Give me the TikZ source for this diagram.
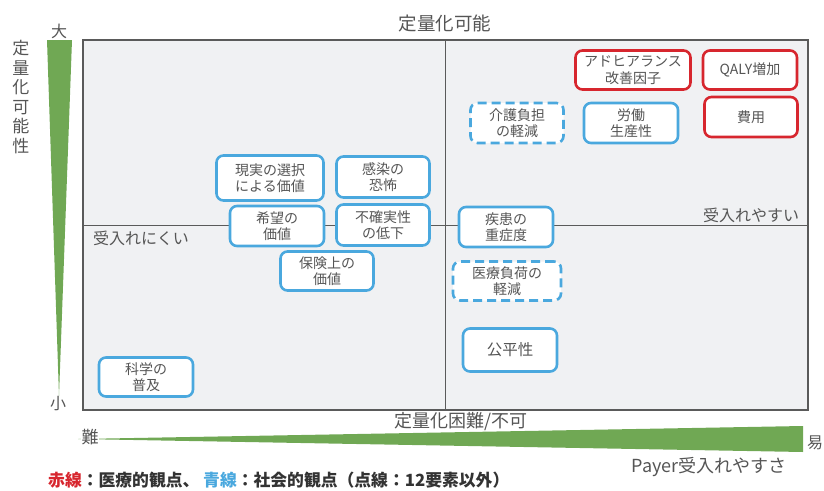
\documentclass[tikz,border=0pt]{standalone}
\usepackage{fontspec}
\setmainfont{Noto Sans CJK JP}
\definecolor{txt}{RGB}{85,85,85}
\definecolor{bl}{RGB}{74,168,222}
\definecolor{rd}{RGB}{215,38,46}
\definecolor{gr}{RGB}{112,168,84}
\definecolor{bgc}{RGB}{240,241,243}
\definecolor{frm}{RGB}{90,90,90}
\tikzset{
  box/.style={draw, line width=2.6pt, rounded corners=7pt, fill=white, align=center,
    text=txt, font=\fontsize{14}{16.5}\selectfont, inner sep=0pt},
  bbox/.style={box, draw=bl},
  rbox/.style={box, draw=rd},
  dbox/.style={box, draw=bl, dash pattern=on 9pt off 5pt},
  lbl/.style={text=txt, inner sep=0pt}
}
\begin{document}
\begin{tikzpicture}[x=1pt,y=-1pt]
\useasboundingbox (0,0) rectangle (824,490);
% plot area
\draw[frm, line width=1.1pt, fill=bgc] (83,40) rectangle (808,410);
\draw[frm, line width=0.9pt] (445.5,40) -- (445.5,410);
\draw[frm, line width=0.9pt] (83,225) -- (808,225);
% green wedges
\fill[gr] (47,40) -- (72,40) -- (59,396) -- cycle;
\fill[gr] (78,439) -- (803,426) -- (803,452) -- cycle;
% axis labels
\node[lbl, font=\fontsize{18.5}{20}\selectfont] (top) at (445,24) {定量化可能};
\node[lbl, font=\fontsize{18}{20}\selectfont] (bot) at (461,422) {定量化困難/不可};
\node[lbl, font=\fontsize{17}{19.6}\selectfont, align=center] (vl) at (21,97) {定\\量\\化\\可\\能\\性};
\node[lbl, font=\fontsize{16}{18}\selectfont] (big) at (59,31) {大};
\node[lbl, font=\fontsize{16}{18}\selectfont] (small) at (58,404) {小};
\node[lbl, font=\fontsize{17}{18}\selectfont, fill=white, inner sep=0.5pt] (hard) at (90,437) {難};
\node[lbl, font=\fontsize{16}{18}\selectfont, anchor=west] (easy) at (807,443) {易};
\node[lbl, font=\fontsize{16}{18}\selectfont] (hardacc) at (141,238) {受入れにくい};
\node[lbl, font=\fontsize{16}{18}\selectfont] (easyacc) at (751,215) {受入れやすい};
\node[lbl, font=\fontsize{18}{20}\selectfont] (payer) at (709,467) {Payer受入れやすさ};
\node[lbl, font=\fontsize{16.8}{18}\selectfont\bfseries, anchor=west, text=black!80] (legend) at (48,480.5)
  {\textcolor{rd}{赤線}：医療的観点、 \textcolor{bl}{青線}：社会的観点（点線：12要素以外）};
% boxes
\node[bbox, minimum width=107pt, minimum height=45pt] (b1) at (270,178) {現実の選択\\による価値};
\node[bbox, minimum width=93pt, minimum height=41pt] (b2) at (383,177) {感染の\\恐怖};
\node[bbox, minimum width=94pt, minimum height=40pt] (b3) at (277,226) {希望の\\価値};
\node[bbox, minimum width=93pt, minimum height=41pt] (b4) at (383,225) {不確実性\\の低下};
\node[bbox, minimum width=93pt, minimum height=39pt] (b5) at (327,271) {保険上の\\価値};
\node[bbox, minimum width=94pt, minimum height=39pt] (b6) at (146,377) {科学の\\普及};
\node[bbox, minimum width=94pt, minimum height=40pt] (b7) at (506,227) {疾患の\\重症度};
\node[dbox, minimum width=108pt, minimum height=39pt] (b8) at (507,281) {医療負荷の\\軽減};
\node[bbox, minimum width=94pt, minimum height=43pt, font=\fontsize{15.5}{17}\selectfont] (b9) at (510,350) {公平性};
\node[dbox, minimum width=93pt, minimum height=40pt] (b10) at (517,123) {介護負担\\の軽減};
\node[bbox, minimum width=94pt, minimum height=40pt] (b11) at (631,123) {労働\\生産性};
\node[rbox, minimum width=115pt, minimum height=39pt] (r1) at (633,70) {アドヒアランス\\改善因子};
\node[rbox, minimum width=94pt, minimum height=39pt] (r2) at (750,70) {QALY増加};
\node[rbox, minimum width=93pt, minimum height=40pt] (r3) at (751,117) {費用};
\end{tikzpicture}
\end{document}
